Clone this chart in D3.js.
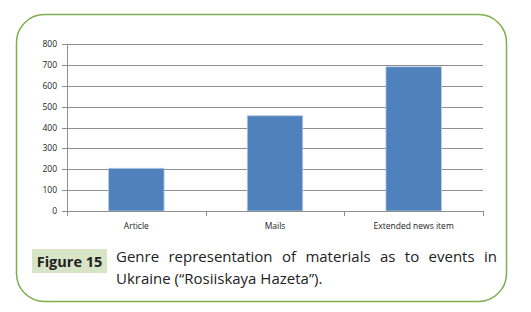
<!DOCTYPE html>
<html>
<head>
<script src="https://d3js.org/d3.v7.min.js"></script>
<style>
  body { margin: 0; background: #fff; }
  svg { display: block; }
</style>
</head>
<body>
<div id="chart"></div>
<script>
const categories = ["Article", "Mails", "Extended news item"];
const values = [205, 457, 692];
const yTicks = [0, 100, 200, 300, 400, 500, 600, 700, 800];
const figLabel = "Figure 15";
const captionLines = ["Genre representation of materials as to events in", "Ukraine (\u201cRosiiskaya Hazeta\u201d)."];

const width = 531, height = 312;
const svg = d3.select("#chart").append("svg")
  .attr("width", width).attr("height", height);

// rounded frame
svg.append("rect")
  .attr("x", 16.5).attr("y", 14.5)
  .attr("width", 490).attr("height", 287)
  .attr("rx", 28).attr("ry", 28)
  .attr("fill", "none")
  .attr("stroke", "#7fad4f")
  .attr("stroke-width", 1.5);

const x = d3.scaleBand().domain(categories).range([67, 483]).padding(0);
const y = d3.scaleLinear().domain([0, 800]).range([211, 44.3]);

const g = svg.append("g");

// gridlines
g.selectAll(".grid").data(yTicks).enter().append("line")
  .attr("x1", 62).attr("x2", 483)
  .attr("y1", d => Math.round(y(d)) + 0.5)
  .attr("y2", d => Math.round(y(d)) + 0.5)
  .attr("stroke", "#8e8e8e").attr("stroke-width", 1);

// bars
g.selectAll(".bar").data(values).enter().append("rect")
  .attr("x", (d, i) => x(categories[i]) + x.bandwidth() * 0.3)
  .attr("width", x.bandwidth() * 0.4)
  .attr("y", d => y(d))
  .attr("height", d => y(0) - y(d))
  .attr("fill", "#4f81bd")
  .attr("stroke", "#b7cbe3")
  .attr("stroke-width", 0.8);

// y axis line
g.append("line")
  .attr("x1", 67.5).attr("x2", 67.5)
  .attr("y1", y(800)).attr("y2", y(0) + 0.5)
  .attr("stroke", "#8e8e8e");

// x axis line + ticks
g.append("line")
  .attr("x1", 67).attr("x2", 483)
  .attr("y1", Math.round(y(0)) + 0.5).attr("y2", Math.round(y(0)) + 0.5)
  .attr("stroke", "#8e8e8e");
const xTickPos = categories.map(c => x(c)).concat([x.range()[1]]);
g.selectAll(".xtick").data(xTickPos).enter().append("line")
  .attr("x1", d => Math.round(d) + 0.5).attr("x2", d => Math.round(d) + 0.5)
  .attr("y1", y(0)).attr("y2", y(0) + 5)
  .attr("stroke", "#8e8e8e");

// y labels
g.selectAll(".ylab").data(yTicks).enter().append("text")
  .attr("x", 57).attr("y", d => y(d))
  .attr("dy", "0.35em")
  .attr("text-anchor", "end")
  .attr("font-family", "'Open Sans', sans-serif")
  .attr("font-size", "8.5px")
  .attr("fill", "#222")
  .text(d => d);

// category labels
g.selectAll(".xlab").data(categories).enter().append("text")
  .attr("x", d => x(d) + x.bandwidth() / 2)
  .attr("y", 229)
  .attr("text-anchor", "middle")
  .attr("font-family", "'Open Sans', sans-serif")
  .attr("font-size", "8.5px")
  .attr("fill", "#222")
  .text(d => d);

// caption label box
svg.append("rect")
  .attr("x", 32).attr("y", 249)
  .attr("width", 75).attr("height", 24)
  .attr("fill", "#d8e4c6");
svg.append("text")
  .attr("x", 69.5).attr("y", 266.5)
  .attr("text-anchor", "middle")
  .attr("font-family", "'Open Sans', sans-serif")
  .attr("font-weight", "bold")
  .attr("font-size", "14.5px")
  .attr("fill", "#222")
  .text(figLabel);

// caption text, first line justified
const capFont = { family: "'Open Sans', sans-serif", size: "15px" };
const left = 116, right = 497;
const words = captionLines[0].split(" ");
const wNodes = words.map(w => svg.append("text")
  .attr("y", 262)
  .attr("font-family", capFont.family)
  .attr("font-size", capFont.size)
  .attr("fill", "#222")
  .text(w));
const widths = wNodes.map(n => n.node().getComputedTextLength());
const gap = (right - left - d3.sum(widths)) / (words.length - 1);
let cx = left;
wNodes.forEach((n, i) => { n.attr("x", cx); cx += widths[i] + gap; });

svg.append("text")
  .attr("x", left).attr("y", 284)
  .attr("font-family", capFont.family)
  .attr("font-size", capFont.size)
  .attr("fill", "#222")
  .text(captionLines[1]);
</script>
</body>
</html>
